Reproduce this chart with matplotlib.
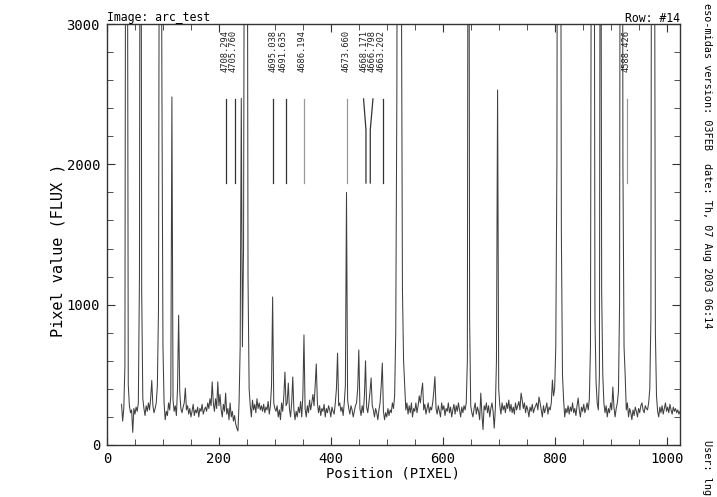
import numpy as np
import matplotlib.pyplot as plt
from matplotlib.ticker import MultipleLocator

pixel = np.arange(26, 1025, 2)
flux = [
    290, 170, 260, 560, 6000, 5200, 430, 280, 230, 250, 90, 260, 220, 270, 240, 300, 1200, 7000, 1100, 330, 260, 210, 280, 240, 300,
    250, 330, 460, 280, 230, 260, 300, 420, 960, 5000, 6000, 2700, 700, 300, 180, 240, 210, 300, 250, 350, 2480, 320, 240, 280, 210,
    400, 925, 380, 260, 230, 270, 300, 405, 250, 280, 220, 260, 200, 240, 290, 210, 250, 230, 270, 200, 260, 240, 290, 220, 250,
    270, 240, 300, 260, 330, 280, 450, 300, 240, 330, 260, 450, 280, 360, 250, 200, 290, 240, 370, 220, 260, 180, 300, 200, 240,
    170, 210, 150, 120, 100, 300, 700, 2470, 700, 1400, 5000, 7000, 6000, 1200, 400, 280, 200, 320, 250, 290, 230, 330, 260, 300, 250,
    280, 240, 290, 230, 270, 250, 310, 220, 280, 420, 1055, 300, 260, 240, 280, 200, 250, 180, 300, 240, 350, 520, 280, 300, 441,
    260, 200, 300, 485, 250, 180, 240, 200, 270, 230, 310, 200, 350, 784, 260, 200, 280, 230, 320, 250, 300, 360, 280, 420, 578,
    300, 230, 280, 210, 260, 240, 290, 200, 260, 230, 280, 250, 200, 270, 240, 220, 300, 400, 655, 280, 300, 240, 270, 210, 300,
    420, 1800, 320, 260, 220, 280, 250, 200, 240, 280, 300, 400, 677, 260, 210, 280, 230, 350, 600, 270, 230, 300, 380, 478, 280,
    250, 200, 260, 230, 180, 250, 300, 420, 584, 240, 180, 230, 200, 260, 210, 250, 230, 300, 260, 350, 800, 2500, 7000, 8000, 7000,
    3500, 1100, 600, 420, 250, 300, 220, 280, 230, 300, 200, 260, 240, 300, 230, 280, 350, 300, 380, 441, 250, 290, 220, 260, 300,
    230, 270, 250, 300, 380, 487, 260, 220, 280, 240, 200, 300, 250, 280, 210, 260, 240, 300, 230, 270, 200, 250, 290, 220, 280,
    240, 300, 250, 200, 270, 230, 280, 250, 300, 600, 7000, 900, 280, 230, 200, 260, 300, 220, 270, 240, 180, 370, 220, 110, 280,
    250, 300, 230, 280, 200, 260, 300, 240, 120, 260, 600, 2530, 400, 280, 220, 300, 250, 280, 230, 300, 260, 320, 240, 290, 230,
    270, 220, 300, 250, 280, 310, 250, 370, 320, 260, 300, 230, 280, 250, 200, 270, 240, 290, 230, 260, 280, 300, 250, 342, 300,
    250, 200, 280, 230, 260, 300, 220, 270, 250, 300, 463, 350, 400, 700, 2000, 7000, 8000, 6000, 1500, 500, 320, 200, 260, 230, 280,
    220, 270, 240, 300, 230, 260, 210, 280, 335, 250, 200, 270, 240, 290, 230, 260, 300, 250, 330, 700, 5000, 8000, 6000, 900, 450,
    300, 250, 500, 6000, 1100, 500, 300, 230, 280, 200, 260, 230, 300, 250, 413, 270, 200, 260, 300, 380, 1000, 7000, 8000, 2000, 700,
    499, 250, 300, 200, 260, 230, 180, 250, 210, 270, 240, 200, 260, 230, 280, 300, 250, 230, 280, 260, 250, 300, 400, 900, 7000,
    8000, 5000, 800, 350, 240, 200, 270, 230, 280, 220, 260, 300, 240, 270, 230, 290, 250, 220, 270, 240, 260, 230, 250, 220, 240,
]

# identified lines: label, label position, marker top x, marker bottom x, colour
line_labels = ['4708.294', '4705.760', '4695.038', '4691.635', '4686.194',
               '4673.660', '4668.171', '4666.798', '4663.202', '4588.426']
label_pos = [211, 226, 297, 315, 349, 427.5, 459.5, 473, 490, 928]
mark_top = [213, 229.5, 297.5, 319, 352.4, 428.7, 458.5, 475.3, 493.1, 928.4]
mark_bot = [213, 229.5, 297.5, 319, 352.4, 428.7, 462.8, 470.5, 493.1, 928.4]
mark_col = ['#333333', '#333333', '#333333', '#333333', '#999999',
            '#999999', '#333333', '#333333', '#333333', '#999999']

mono = 'DejaVu Sans Mono'

fig = plt.figure(figsize=(7.17, 4.97), dpi=100)
ax = fig.add_axes([107 / 717, 1 - 445 / 497, (680 - 107) / 717, (445 - 24) / 497])

ax.plot(pixel, flux, color='#404040', lw=0.75)

for lab, xl, xt, xb, c in zip(line_labels, label_pos, mark_top, mark_bot, mark_col):
    ax.plot([xt, xb, xb], [2466, 2245, 1867], color=c, lw=0.9)
    ax.text(xl, 2655, lab, rotation=90, ha='center', va='bottom',
            family=mono, fontsize=6.3, color='#222222')

ax.set_xlim(0, 1024)
ax.set_ylim(0, 3000)
ax.xaxis.set_major_locator(MultipleLocator(200))
ax.xaxis.set_minor_locator(MultipleLocator(50))
ax.yaxis.set_major_locator(MultipleLocator(1000))
ax.yaxis.set_minor_locator(MultipleLocator(200))
ax.tick_params(which='both', direction='in', top=True, right=True, color='#333333')
ax.tick_params(which='major', length=6, labelsize=10, pad=5)
ax.tick_params(which='minor', length=4)
for t in ax.get_xticklabels() + ax.get_yticklabels():
    t.set_family(mono)
for s in ax.spines.values():
    s.set_color('#333333')
    s.set_linewidth(1.0)

ax.set_xlabel('Position (PIXEL)', family=mono, fontsize=10)
ax.set_ylabel('Pixel value (FLUX )', family=mono, fontsize=11)
ax.xaxis.set_label_coords(0.5, -0.05)
ax.yaxis.set_label_coords(-0.072, 0.463)

fig.text(107 / 717, 1 - 18 / 497, 'Image: arc_test', family=mono, fontsize=8.3,
         ha='left', va='center')
fig.text(680 / 717, 1 - 18 / 497, 'Row: #14', family=mono, fontsize=8.3,
         ha='right', va='center')
fig.text(707 / 717, 1 - 3 / 497, 'eso-midas version: 03FEB', family=mono,
         fontsize=7.3, rotation=270, ha='center', va='top')
fig.text(707 / 717, 1 - 163 / 497, 'date: Th, 07 Aug 2003 06:14', family=mono,
         fontsize=7.3, rotation=270, ha='center', va='top')
fig.text(707 / 717, 1 - 440 / 497, 'User: lng', family=mono,
         fontsize=7.3, rotation=270, ha='center', va='top')

fig.savefig('out.png', dpi=100)
